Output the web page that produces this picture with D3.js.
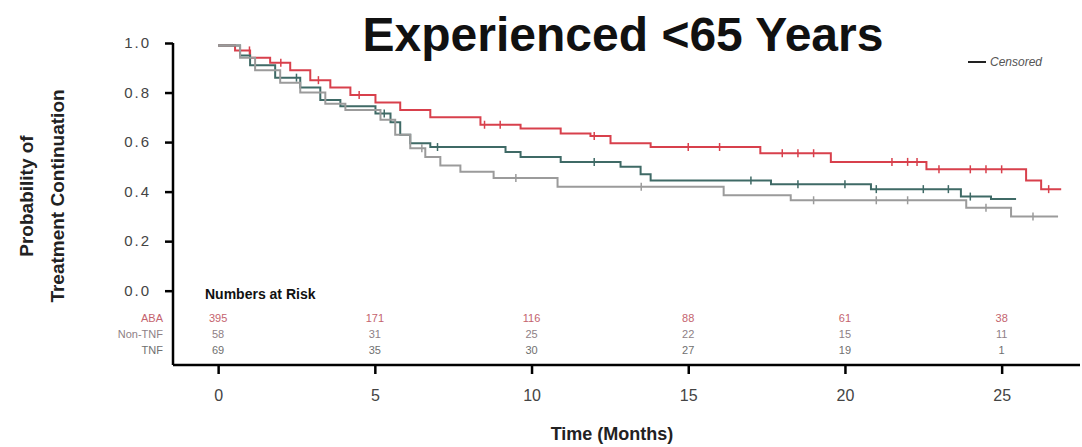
<!DOCTYPE html>
<html>
<head>
<meta charset="utf-8">
<script src="https://cdn.jsdelivr.net/npm/d3@7"></script>
<style>
  body { margin: 0; background: #fff; }
  svg { font-family: "Liberation Sans", Arial, sans-serif; }
</style>
</head>
<body>
<script>
// step curves (time in months, probability of continuation)
var abaTimes   = [0, 0.54, 1.02, 1.66, 2.3, 2.94, 3.58, 4.22, 5.02, 5.81, 6.77, 8.37, 9.65, 10.93, 11.88, 12.52, 13.8, 17.3, 19.55, 22.6, 25.78, 26.26, 26.9];
var abaSurv    = [0.99, 0.97, 0.94, 0.92, 0.89, 0.85, 0.82, 0.79, 0.76, 0.73, 0.70, 0.67, 0.655, 0.635, 0.625, 0.595, 0.58, 0.555, 0.52, 0.49, 0.445, 0.41, 0.41];
var nonTnfTimes = [0, 0.7, 1.02, 1.82, 2.62, 3.26, 3.9, 5.02, 5.5, 5.81, 6.13, 6.77, 9.17, 9.65, 10.93, 12.84, 13.48, 13.8, 17.64, 20.83, 23.7, 24.66, 25.46];
var nonTnfSurv  = [0.99, 0.95, 0.91, 0.86, 0.82, 0.77, 0.745, 0.715, 0.68, 0.63, 0.595, 0.58, 0.56, 0.54, 0.52, 0.50, 0.47, 0.445, 0.43, 0.41, 0.38, 0.37, 0.37];
var tnfTimes   = [0, 0.7, 1.18, 1.98, 2.62, 3.42, 4.06, 5.18, 5.65, 6.13, 6.61, 7.09, 7.73, 8.79, 10.83, 16.13, 18.27, 23.87, 25.3, 26.8];
var tnfSurv    = [0.99, 0.94, 0.89, 0.84, 0.80, 0.755, 0.73, 0.69, 0.63, 0.575, 0.54, 0.505, 0.48, 0.455, 0.42, 0.385, 0.365, 0.335, 0.30, 0.30];

// censor marks (times)
var abaCens    = [1.0, 2.0, 3.2, 4.5, 8.5, 9.0, 12.0, 15.0, 16.0, 18.0, 18.5, 19.0, 21.5, 22.0, 22.3, 23.0, 24.0, 24.5, 25.0, 26.5];
var nonTnfCens = [2.5, 5.3, 7.0, 12.0, 17.0, 18.5, 20.0, 21.0, 22.5, 23.3, 24.0];
var tnfCens    = [6.5, 9.5, 13.5, 19.0, 21.0, 22.0, 24.5, 26.0];

// numbers at risk
var riskTimes  = [0, 5, 10, 15, 20, 25];
var riskLabels = ["ABA", "Non-TNF", "TNF"];
var riskAba    = ["395", "171", "116", "88", "61", "38"];
var riskNonTnf = ["58", "31", "25", "22", "15", "11"];
var riskTnf    = ["69", "35", "30", "27", "19", "1"];

var xTicks = [0, 5, 10, 15, 20, 25];
var yTicks = [0, 0.2, 0.4, 0.6, 0.8, 1.0];

var W = 1082, H = 447;
var svg = d3.select("body").append("svg").attr("width", W).attr("height", H);

var x = d3.scaleLinear().domain([-1.44, 27.5]).range([173, 1080]);
var y = d3.scaleLinear().domain([-0.3, 1.0]).range([365, 43]);

function zipCurve(t, s) {
  var out = [];
  for (var i = 0; i < t.length; i++) out.push({t: t[i], s: s[i]});
  return out;
}
// survival at time tt for censor marks
function survAt(t, s, tt) {
  var v = s[0];
  for (var i = 0; i < t.length; i++) { if (t[i] <= tt) v = s[i]; }
  return v;
}

var series = [
  {times: abaTimes, surv: abaSurv, cens: abaCens, color: "#d8404c"},
  {times: nonTnfTimes, surv: nonTnfSurv, cens: nonTnfCens, color: "#3f6a66"},
  {times: tnfTimes, surv: tnfSurv, cens: tnfCens, color: "#9b9b9b"}
];

// title (second line of a two line title, first line is cut off)
svg.append("text")
  .attr("x", 623).attr("y", 51)
  .attr("text-anchor", "middle")
  .style("font-weight", "bold").style("font-size", "48px").style("fill", "#111")
  .text("Experienced <65 Years");

// axes
var yAxis = svg.append("g").attr("transform", "translate(173,0)")
  .call(d3.axisLeft(y).tickValues(yTicks).tickSize(8).tickFormat(d3.format(".1f")));
yAxis.select(".domain").attr("d", "M0," + y(1.0) + "V" + y(-0.3)).style("stroke-width", 2.5);
yAxis.selectAll(".tick line").style("stroke-width", 2.5);
yAxis.selectAll(".tick text").attr("x", -22).style("font-size", "15px").style("fill", "#444").style("letter-spacing", "2px");

var xAxis = svg.append("g").attr("transform", "translate(0,365)")
  .call(d3.axisBottom(x).tickValues(xTicks).tickSize(9));
xAxis.select(".domain").attr("d", "M173,0H1080").style("stroke-width", 2.5);
xAxis.selectAll(".tick line").style("stroke-width", 2.5);
xAxis.selectAll(".tick text").attr("y", 25).style("font-size", "16px").style("fill", "#444");

// axis titles
var yl = svg.append("text")
  .attr("transform", "translate(0,196) rotate(-90)")
  .attr("text-anchor", "middle")
  .style("font-weight", "bold").style("font-size", "19px").style("fill", "#222");
yl.append("tspan").attr("x", 0).attr("y", 33).text("Probability of");
yl.append("tspan").attr("x", 0).attr("y", 64).text("Treatment Continuation");

svg.append("text")
  .attr("x", 612).attr("y", 440)
  .attr("text-anchor", "middle")
  .style("font-weight", "bold").style("font-size", "18px").style("fill", "#222")
  .text("Time (Months)");

// curves
var line = d3.line()
  .x(function(d) { return x(d.t); })
  .y(function(d) { return y(d.s); })
  .curve(d3.curveStepAfter);

series.forEach(function(sr) {
  svg.append("path")
    .datum(zipCurve(sr.times, sr.surv))
    .attr("d", line)
    .attr("fill", "none")
    .attr("stroke", sr.color)
    .attr("stroke-width", 2);
  svg.selectAll(null).data(sr.cens).enter().append("line")
    .attr("x1", function(d) { return x(d); })
    .attr("x2", function(d) { return x(d); })
    .attr("y1", function(d) { return y(survAt(sr.times, sr.surv, d)) - 4; })
    .attr("y2", function(d) { return y(survAt(sr.times, sr.surv, d)) + 4; })
    .attr("stroke", sr.color)
    .attr("stroke-width", 1.5);
});

// legend
svg.append("line").attr("x1", 968).attr("x2", 986).attr("y1", 62).attr("y2", 62)
  .attr("stroke", "#222").attr("stroke-width", 2);
svg.append("text").attr("x", 990).attr("y", 66)
  .style("font-style", "italic").style("font-size", "12px").style("fill", "#555")
  .text("Censored");

// numbers at risk
svg.append("text").attr("x", 205).attr("y", 299)
  .style("font-weight", "bold").style("font-size", "14px").style("fill", "#111")
  .text("Numbers at Risk");

var riskRows = [riskAba, riskNonTnf, riskTnf];
var riskColors = ["#c4636e", "#8e7f86", "#6f6f6f"];
var rowY = [322, 338, 354];
riskRows.forEach(function(row, i) {
  svg.append("text").attr("x", 163).attr("y", rowY[i])
    .attr("text-anchor", "end")
    .style("font-size", "11px").style("fill", riskColors[i])
    .text(riskLabels[i]);
  svg.selectAll(null).data(row).enter().append("text")
    .attr("x", function(d, j) { return x(riskTimes[j]); })
    .attr("y", rowY[i])
    .attr("text-anchor", "middle")
    .style("font-size", "11px").style("fill", riskColors[i])
    .text(function(d) { return d; });
});
</script>
</body>
</html>
